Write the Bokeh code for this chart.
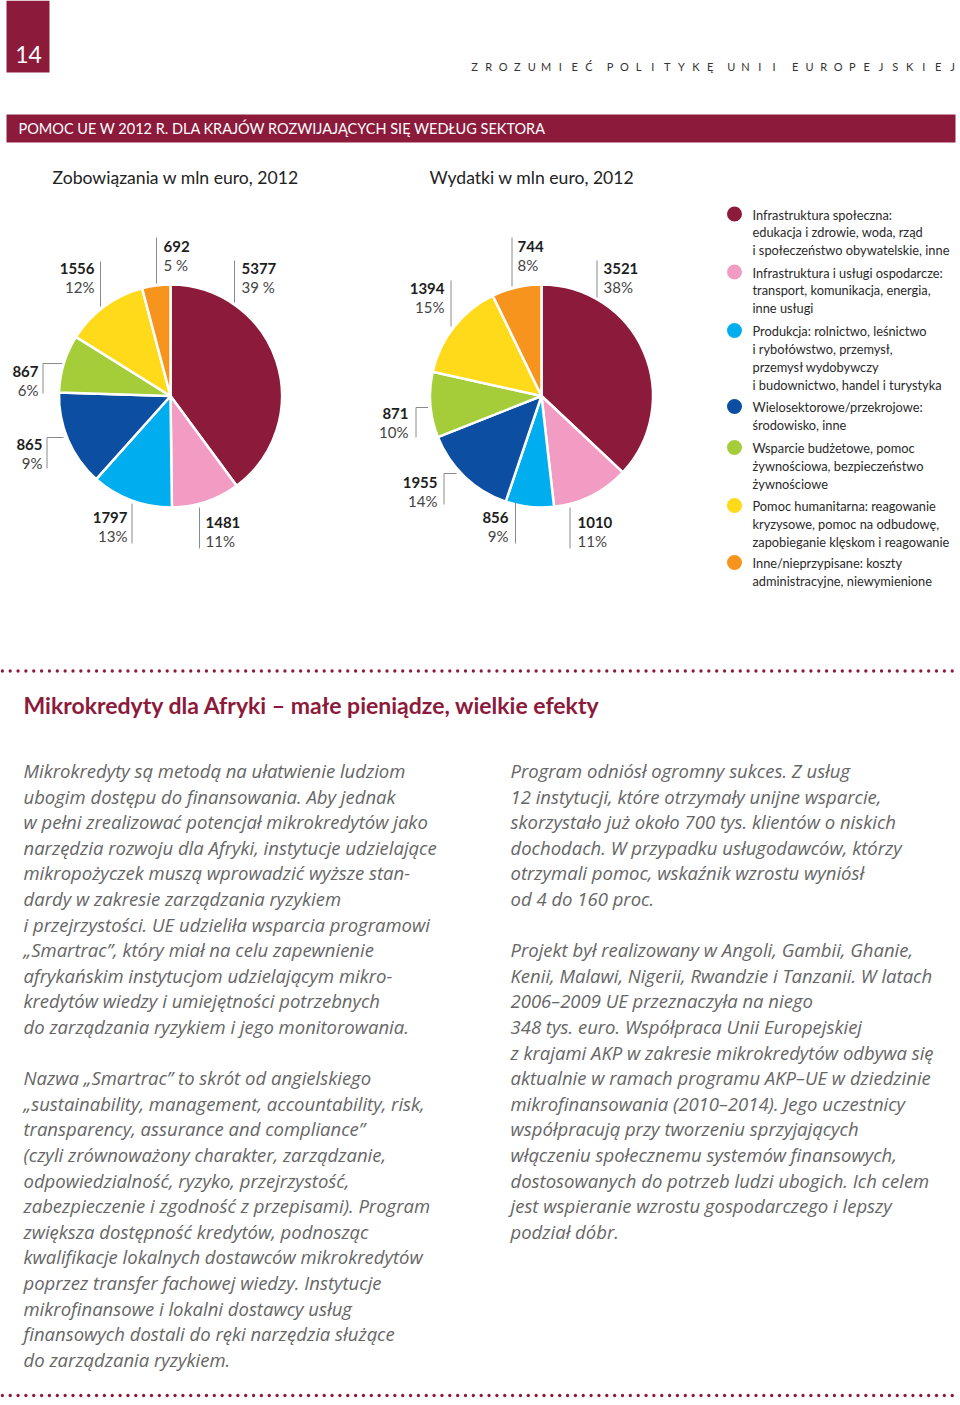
import numpy as np
from bokeh.plotting import figure
from bokeh.models import Range1d, ColumnDataSource
from bokeh.core.properties import value
from bokeh.embed import file_html
from bokeh.resources import INLINE

# ---------------- data ----------------
categories = [
    ["Infrastruktura społeczna:", "edukacja i zdrowie, woda, rząd", "i społeczeństwo obywatelskie, inne"],
    ["Infrastruktura i usługi ospodarcze:", "transport, komunikacja, energia,", "inne usługi"],
    ["Produkcja: rolnictwo, leśnictwo", "i rybołówstwo, przemysł,", "przemysł wydobywczy", "i budownictwo, handel i turystyka"],
    ["Wielosektorowe/przekrojowe:", "środowisko, inne"],
    ["Wsparcie budżetowe, pomoc", "żywnościowa, bezpieczeństwo", "żywnościowe"],
    ["Pomoc humanitarna: reagowanie", "kryzysowe, pomoc na odbudowę,", "zapobieganie klęskom i reagowanie"],
    ["Inne/nieprzypisane: koszty", "administracyjne, niewymienione"],
]
colors = ["#8C1A3B", "#F29CC3", "#00AEEF", "#0B4EA2", "#A5CD39", "#FFDA1A", "#F7941D"]

commit_values = [5377, 1481, 1797, 865, 867, 1556, 692]
commit_pct = ["39 %", "11%", "13%", "9%", "6%", "12%", "5 %"]
commit_share = [39.9, 9.9, 11.8, 13.9, 8.4, 12.0, 4.1]   # slice sizes as drawn

spend_values = [3521, 1010, 856, 1955, 871, 1394, 744]
spend_pct = ["38%", "11%", "9%", "14%", "10%", "15%", "8%"]
spend_share = [37.0, 11.2, 7.0, 13.8, 9.5, 14.3, 7.2]

header_words = ["ZROZUMIEĆ", "POLITYKĘ", "UNII", "EUROPEJSKIEJ"]
page_number = "14"
band_title = "POMOC UE W 2012 R. DLA KRAJÓW ROZWIJAJĄCYCH SIĘ WEDŁUG SEKTORA"
sub_left = "Zobowiązania w mln euro, 2012"
sub_right = "Wydatki w mln euro, 2012"
article_title = "Mikrokredyty dla Afryki – małe pieniądze, wielkie efekty"

left_col = [
    "Mikrokredyty są metodą na ułatwienie ludziom",
    "ubogim dostępu do finansowania. Aby jednak",
    "w pełni zrealizować potencjał mikrokredytów jako",
    "narzędzia rozwoju dla Afryki, instytucje udzielające",
    "mikropożyczek muszą wprowadzić wyższe stan-",
    "dardy w zakresie zarządzania ryzykiem",
    "i przejrzystości. UE udzieliła wsparcia programowi",
    "„Smartrac”, który miał na celu zapewnienie",
    "afrykańskim instytucjom udzielającym mikro-",
    "kredytów wiedzy i umiejętności potrzebnych",
    "do zarządzania ryzykiem i jego monitorowania.",
    "",
    "Nazwa „Smartrac” to skrót od angielskiego",
    "„sustainability, management, accountability, risk,",
    "transparency, assurance and compliance”",
    "(czyli zrównoważony charakter, zarządzanie,",
    "odpowiedzialność, ryzyko, przejrzystość,",
    "zabezpieczenie i zgodność z przepisami). Program",
    "zwiększa dostępność kredytów, podnosząc",
    "kwalifikacje lokalnych dostawców mikrokredytów",
    "poprzez transfer fachowej wiedzy. Instytucje",
    "mikrofinansowe i lokalni dostawcy usług",
    "finansowych dostali do ręki narzędzia służące",
    "do zarządzania ryzykiem.",
]
right_col = [
    "Program odniósł ogromny sukces. Z usług",
    "12 instytucji, które otrzymały unijne wsparcie,",
    "skorzystało już około 700 tys. klientów o niskich",
    "dochodach. W przypadku usługodawców, którzy",
    "otrzymali pomoc, wskaźnik wzrostu wyniósł",
    "od 4 do 160 proc.",
    "",
    "Projekt był realizowany w Angoli, Gambii, Ghanie,",
    "Kenii, Malawi, Nigerii, Rwandzie i Tanzanii. W latach",
    "2006–2009 UE przeznaczyła na niego",
    "348 tys. euro. Współpraca Unii Europejskiej",
    "z krajami AKP w zakresie mikrokredytów odbywa się",
    "aktualnie w ramach programu AKP–UE w dziedzinie",
    "mikrofinansowania (2010–2014). Jego uczestnicy",
    "współpracują przy tworzeniu sprzyjających",
    "włączeniu społecznemu systemów finansowych,",
    "dostosowanych do potrzeb ludzi ubogich. Ich celem",
    "jest wspieranie wzrostu gospodarczego i lepszy",
    "podział dóbr.",
]

# ---------------- layout ----------------
W, H = 960, 1405
MAROON = "#8C1A3B"
FONT = value("Lato")
BODY_FONT = value("Open Sans")


def Y(py):
    return H - py


p = figure(width=W, height=H, x_range=Range1d(0, W), y_range=Range1d(0, H),
           output_backend="svg", toolbar_location=None, min_border=0)
p.axis.visible = False
p.grid.visible = False
p.outline_line_color = None
p.background_fill_color = "white"
p.border_fill_color = "white"

# page number box + header
p.quad(left=6, right=49, top=Y(0), bottom=Y(72), fill_color=MAROON, line_color=None)
p.text(x=[28], y=[Y(54)], text=[page_number], text_color="white", text_font=FONT,
       text_font_size="23px", text_align="center", text_baseline="middle")

pitch, wgap = 14.3, 21.1
hx, hl = [], []
xcur = 474.0
for wi, w in enumerate(header_words):
    for li, ch in enumerate(w):
        hx.append(xcur)
        hl.append(ch)
        xcur += pitch
    xcur += wgap - pitch
p.text(x=hx, y=[Y(66)] * len(hx), text=hl, text_color="#333333", text_font=FONT,
       text_font_size="11px", text_align="center", text_baseline="middle")

# title band
p.quad(left=6, right=955, top=Y(114), bottom=Y(142), fill_color=MAROON, line_color=None)
p.text(x=[18], y=[Y(128)], text=[band_title], text_color="white", text_font=FONT,
       text_font_size="14.5px", text_align="left", text_baseline="middle")

p.text(x=[52, 429], y=[Y(177), Y(177)], text=[sub_left, sub_right], text_color="#222222",
       text_font=FONT, text_font_size="17.6px", text_align="left", text_baseline="middle")


# pies
def draw_pie(cx, cy, r, share):
    s = np.array(share, dtype=float)
    frac = s / s.sum()
    c1 = np.cumsum(frac)
    c0 = c1 - frac
    src = ColumnDataSource(dict(start=np.pi / 2 - 2 * np.pi * c1, end=np.pi / 2 - 2 * np.pi * c0,
                                color=colors))
    p.wedge(x=cx, y=Y(cy), radius=r, start_angle="start", end_angle="end", direction="anticlock",
            fill_color="color", line_color="white", line_width=2.5, source=src)


draw_pie(170, 395.5, 111.5, commit_share)
draw_pie(541, 395.5, 111.5, spend_share)

# label layout: (text_x, num_y, align, line_x, line_y0, line_y1, tick_x)
left_layout = [
    (241, 268, "left", 234, 260, 302, None),
    (205, 522, "left", 199, 507, 548, None),
    (127, 517, "right", 131.5, 503, 543, None),
    (42, 444, "right", 46.5, 437, 468, 63),
    (38, 371, "right", 42.5, 363, 393, 61.5),
    (94, 268, "right", 100, 261, 306, None),
    (163, 246, "left", 156, 237, 283, None),
]
right_layout = [
    (603, 268, "left", 596.5, 260, 297, None),
    (577, 522, "left", 569.5, 507, 548, None),
    (508, 517, "right", 515, 502, 543, None),
    (437, 482, "right", 443.5, 473, 504, 456),
    (408, 413, "right", 415.5, 407, 437, 427.5),
    (444, 288, "right", 450.5, 280, 326, None),
    (517, 246, "left", 511.5, 237, 286, None),
]


def draw_labels(vals, pcts, layout):
    xs0, ys0, xs1, ys1 = [], [], [], []
    for (tx, ny, al, lx, ly0, ly1, tk) in layout:
        xs0.append(lx); ys0.append(Y(ly0)); xs1.append(lx); ys1.append(Y(ly1))
        if tk is not None:
            xs0.append(lx); ys0.append(Y(ly0)); xs1.append(tk); ys1.append(Y(ly0))
    p.segment(x0=xs0, y0=ys0, x1=xs1, y1=ys1, line_color="#8a8a8a", line_width=1)
    for al in ("left", "right"):
        idx = [i for i, l in enumerate(layout) if l[2] == al]
        p.text(x=[layout[i][0] for i in idx], y=[Y(layout[i][1]) for i in idx],
               text=[str(vals[i]) for i in idx], text_color="#1e1e1e", text_font=FONT,
               text_font_style="bold", text_font_size="15px", text_align=al, text_baseline="middle")
        p.text(x=[layout[i][0] for i in idx], y=[Y(layout[i][1] + 18.5) for i in idx],
               text=[pcts[i] for i in idx], text_color="#444444", text_font=FONT,
               text_font_size="15px", text_align=al, text_baseline="middle")


draw_labels(commit_values, commit_pct, left_layout)
draw_labels(spend_values, spend_pct, right_layout)

# legend
legend_y = [213.5, 271.5, 330, 406, 447, 505, 562]
p.scatter(x=[734] * 7, y=[Y(v) for v in legend_y], size=15, fill_color=colors, line_color=None)
lx, ly, lt = [], [], []
for yy, lines in zip(legend_y, categories):
    for k, t in enumerate(lines):
        lx.append(752); ly.append(Y(yy + 0.5 + 17.9 * k)); lt.append(t)
p.text(x=lx, y=ly, text=lt, text_color="#2a2a2a", text_font=FONT, text_font_size="12.8px",
       text_align="left", text_baseline="middle")

# dotted rules
for dy in (670.5, 1395):
    dx = np.arange(951.7, 0, -7.85)
    p.scatter(x=dx, y=[Y(dy)] * len(dx), size=3.3, fill_color=MAROON, line_color=None)

# article
p.text(x=[23], y=[Y(704)], text=[article_title], text_color=MAROON, text_font=FONT,
       text_font_style="bold", text_font_size="23px", text_align="left", text_baseline="middle")

for colx, lines in ((23, left_col), (510, right_col)):
    xs = [colx] * len(lines)
    ys = [Y(770 + 25.6 * k) for k in range(len(lines))]
    p.text(x=xs, y=ys, text=lines, text_color="#666666", text_font=BODY_FONT, text_font_style="italic",
           text_font_size="18.5px", text_align="left", text_baseline="middle")

open("out.html", "w").write(file_html(p, INLINE))
